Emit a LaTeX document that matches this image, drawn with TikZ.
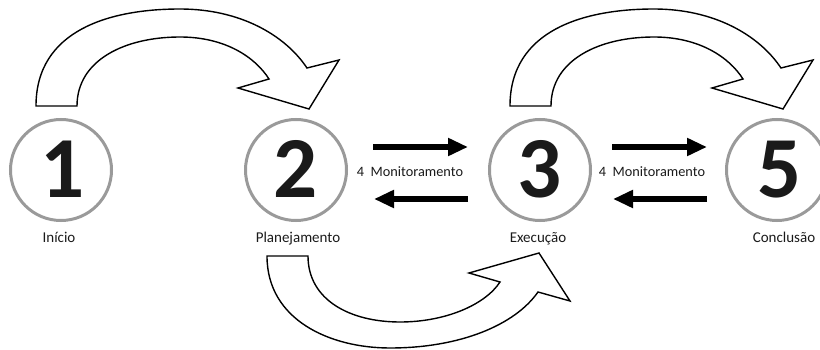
\documentclass[tikz,border=0pt]{standalone}
\usepackage{fontspec}
\setmainfont{Carlito}
\usetikzlibrary{arrows.meta}
\definecolor{ringgray}{HTML}{9A9A9A}
\definecolor{digitblack}{HTML}{1A1A1A}
\tikzset{
  ring/.style={circle, draw=ringgray, line width=3pt, minimum size=101pt, inner sep=0pt},
  digit/.style={font=\fontsize{87}{87}\selectfont\bfseries, text=digitblack, anchor=base, inner sep=0pt},
  label/.style={font=\fontsize{15}{15}\selectfont, text=digitblack, anchor=base, inner sep=0pt},
  monitor/.style={font=\fontsize{14.3}{14.3}\selectfont, text=digitblack, anchor=base, inner sep=0pt},
  flowarrow/.style={line width=6pt, draw=black, -{Triangle[length=20pt,width=17pt]}},
  blockarrow/.style={draw=black, fill=white, line width=1.4pt, line join=miter}
}
\begin{document}
\begin{tikzpicture}[x=1pt,y=-1pt]
\useasboundingbox (0,0) rectangle (820,350);

% circles
\node[ring] (c1) at (61,170) {};
\node[ring] (c2) at (296,170) {};
\node[ring] (c3) at (540,170) {};
\node[ring] (c5) at (777,170) {};

% digits
\node[digit] (d1) at (63,198) {1};
\node[digit] (d2) at (296,198) {2};
\node[digit] (d3) at (540,198) {3};
\node[digit] (d5) at (780,198) {5};

% labels
\node[label] (l1) at (59,242) {Início};
\node[label] (l2) at (298,242) {Planejamento};
\node[label] (l3) at (538,242) {Execução};
\node[label] (l5) at (784,242) {Conclusão};

% monitoring labels
\node[monitor] (m23) at (410,177) {4\ \ Monitoramento};
\node[monitor] (m35) at (652,177) {4\ \ Monitoramento};

% straight arrows
\coordinate (a23s) at (373,147);
\coordinate (a23e) at (468,147);
\coordinate (a32s) at (468,199);
\coordinate (a32e) at (374,199);
\coordinate (a35s) at (612,147);
\coordinate (a35e) at (707,147);
\coordinate (a53s) at (707,199);
\coordinate (a53e) at (613,199);
\draw[flowarrow] (a23s) -- (a23e);
\draw[flowarrow] (a32s) -- (a32e);
\draw[flowarrow] (a35s) -- (a35e);
\draw[flowarrow] (a53s) -- (a53e);

% curved block arrow 1 -> 2
\draw[blockarrow] (36,106) .. controls (36,30) and (110,9) .. (180,9)
  .. controls (240,9) and (285,35) .. (307,68)
  -- (339,60) -- (309,109) -- (238,88) -- (269,79)
  .. controls (255,57) and (225,37) .. (180,37)
  .. controls (125,37) and (77,60) .. (77,106) -- cycle;

% curved block arrow 3 -> 5
\begin{scope}[xshift=474pt]
\draw[blockarrow] (36,106) .. controls (36,30) and (110,9) .. (180,9)
  .. controls (240,9) and (285,35) .. (307,68)
  -- (339,60) -- (309,109) -- (238,88) -- (269,79)
  .. controls (255,57) and (225,37) .. (180,37)
  .. controls (125,37) and (77,60) .. (77,106) -- cycle;
\end{scope}

% curved block arrow 2 -> 3
\draw[blockarrow] (267,256) .. controls (267,320) and (330,348) .. (390,348)
  .. controls (460,348) and (515,325) .. (538,292)
  -- (570,301) -- (539,253) -- (469,273) -- (500,282)
  .. controls (485,305) and (445,322) .. (400,322)
  .. controls (350,322) and (308,300) .. (308,256) -- cycle;
\end{tikzpicture}
\end{document}
